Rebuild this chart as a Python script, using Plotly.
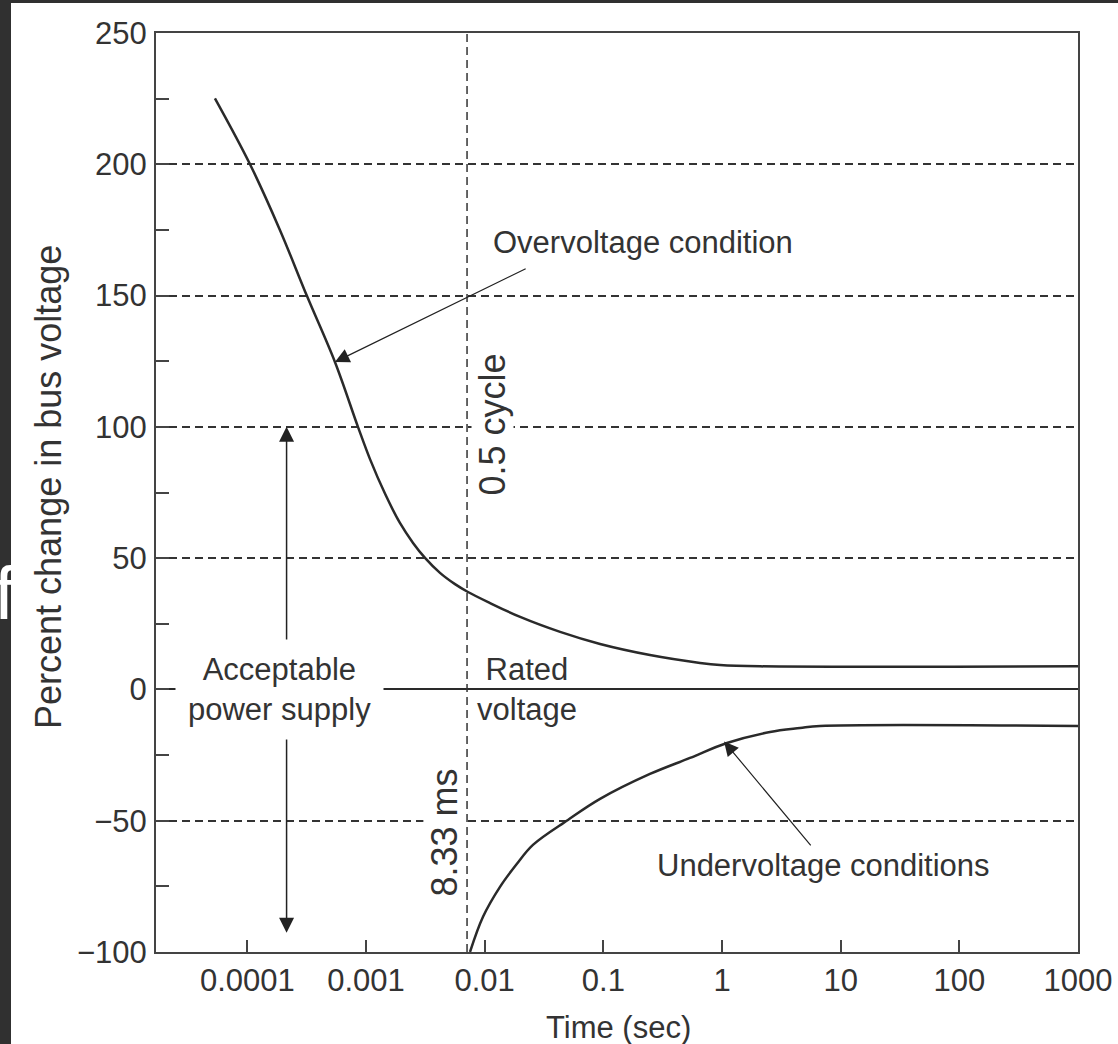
import math
import plotly.graph_objects as go

# overvoltage curve (time in sec, percent change in bus voltage)
over_t = [5.33e-5, 1.05e-4, 1.88e-4, 3.18e-4, 5.47e-4, 8.55e-4, 1.08e-3, 1.45e-3, 1.93e-3,
          2.49e-3, 3.14e-3, 4.2e-3, 5.62e-3, 7.23e-3, 0.0111, 0.0199, 0.0432, 0.0938,
          0.247, 0.653, 0.962, 2.09, 1000]
over_v = [225.1, 200.1, 175, 149.8, 124.7, 100, 87.7, 74.4, 63.4,
          55.8, 50.1, 44.4, 40.1, 37.1, 32.9, 27.6, 21.9, 17.3,
          13.1, 10.1, 9.3, 8.8, 8.8]

# undervoltage curve
under_t = [7.52e-3, 9.68e-3, 0.01346, 0.0187, 0.0255, 0.0503, 0.0938, 0.247, 0.537,
           1.10, 2.54, 4.54, 6.70, 1000]
under_v = [-100, -86.6, -75.2, -66.4, -59.2, -49.7, -41.7, -32.2, -26.1,
           -20.4, -16.2, -14.7, -13.9, -13.9]

half_cycle_t = 0.0071
x_ticks = [0.0001, 0.001, 0.01, 0.1, 1, 10, 100, 1000]
x_ticktext = ["0.0001", "0.001", "0.01", "0.1", "1", "10", "100", "1000"]

ink = "#333333"
font = "Liberation Sans, Arial, sans-serif"
lx = math.log10

fig = go.Figure()

fig.add_trace(go.Scatter(x=over_t, y=over_v, mode="lines",
                         line=dict(color="#2a2a2a", width=2.5, shape="spline", smoothing=1.0)))
fig.add_trace(go.Scatter(x=under_t, y=under_v, mode="lines",
                         line=dict(color="#2a2a2a", width=2.5, shape="spline", smoothing=1.0)))
fig.add_trace(go.Scatter(x=[half_cycle_t, half_cycle_t], y=[-100, 250], mode="lines",
                         line=dict(color=ink, width=1.5, dash="8px,5px")))

L, R, T, B = 156, 40, 33, 92
W, H = 1118, 1044
pw, ph = W - L - R, H - T - B

# white sheet on a dark page (dark strip left and top)
fig.add_shape(type="rect", xref="paper", yref="paper", layer="below",
              x0=(11 - L) / pw, x1=(W + 5 - L) / pw, y0=-(B + 5) / ph, y1=(H - B - 3) / ph,
              fillcolor="white", line=dict(width=0))

ann = []
# stray letter on the dark strip
ann.append(dict(xref="paper", yref="paper", x=(4 - L) / pw, y=(H - B - 593) / ph, text="f",
                xanchor="center", yanchor="middle", showarrow=False,
                font=dict(family=font, size=75, color="white")))

# arrows
arrow_x = 2.14e-4
ann.append(dict(x=lx(arrow_x), y=100, ax=lx(arrow_x), ay=0, axref="x", ayref="y", text="",
                showarrow=True, arrowhead=2, arrowsize=2, arrowwidth=1.5, arrowcolor="#222"))
ann.append(dict(x=lx(arrow_x), y=-92.7, ax=lx(arrow_x), ay=0, axref="x", ayref="y", text="",
                showarrow=True, arrowhead=2, arrowsize=2, arrowwidth=1.5, arrowcolor="#222"))
ann.append(dict(x=lx(5.47e-4), y=124.7, ax=lx(0.0228), ay=160.5, axref="x", ayref="y", text="",
                showarrow=True, arrowhead=2, arrowsize=2.4, arrowwidth=1.2, arrowcolor="#222"))
ann.append(dict(x=lx(1.04), y=-19.8, ax=lx(5.73), ay=-60, axref="x", ayref="y", text="",
                showarrow=True, arrowhead=2, arrowsize=2.4, arrowwidth=1.2, arrowcolor="#222"))

# labels
ann.append(dict(x=lx(1.85e-4), y=0, text="Acceptable<br>power supply", showarrow=False,
                bgcolor="white", borderpad=12, font=dict(family=font, size=31, color=ink)))
ann.append(dict(x=lx(0.0228), y=0, text="Rated<br>voltage", showarrow=False,
                font=dict(family=font, size=31, color=ink)))
ann.append(dict(x=lx(0.216), y=170.4, text="Overvoltage condition", showarrow=False,
                font=dict(family=font, size=31, color=ink)))
ann.append(dict(x=lx(7.1), y=-67.2, text="Undervoltage conditions", showarrow=False,
                font=dict(family=font, size=31, color=ink)))
ann.append(dict(x=lx(0.0117), y=100.8, text="0.5 cycle", showarrow=False, textangle=-90,
                bgcolor="white", borderpad=0, font=dict(family=font, size=36, color=ink)))
ann.append(dict(x=lx(0.0046), y=-54.6, text="8.33 ms", showarrow=False, textangle=-90,
                bgcolor="white", borderpad=0, font=dict(family=font, size=36, color=ink)))

# axis titles
ann.append(dict(xref="paper", yref="paper", x=(618 - L) / pw, y=(H - B - 1027) / ph,
                xanchor="center", yanchor="middle",
                text="Time (sec)", showarrow=False, font=dict(family=font, size=31, color=ink)))
ann.append(dict(xref="paper", yref="paper", x=(48 - L) / pw, y=(H - B - 487) / ph,
                xanchor="center", yanchor="middle",
                text="Percent change in bus voltage", textangle=-90, showarrow=False,
                font=dict(family=font, size=36, color=ink)))

fig.update_layout(
    width=W, height=H,
    margin=dict(l=L, r=R, t=T, b=B, autoexpand=False),
    paper_bgcolor="#303030", plot_bgcolor="rgba(0,0,0,0)",
    showlegend=False,
    annotations=ann,
    font=dict(family=font, size=31, color=ink),
)
fig.update_xaxes(type="log", range=[-4.77, 3.0], tickvals=x_ticks, ticktext=x_ticktext,
                 ticks="inside", ticklen=12, tickwidth=2, tickcolor="#444",
                 showline=True, linecolor="#444", linewidth=2, mirror=True, automargin=False,
                 showgrid=False, zeroline=False, ticklabelstandoff=0,
                 tickfont=dict(family=font, size=31, color=ink))
fig.update_yaxes(range=[-100, 250], dtick=50, ticks="inside", ticklen=13, tickwidth=2, tickcolor="#444",
                 minor=dict(dtick=25, ticks="inside", ticklen=13, tickwidth=2, tickcolor="#444", showgrid=False),
                 showline=True, linecolor="#444", linewidth=2, mirror=True, automargin=False,
                 showgrid=True, gridcolor=ink, gridwidth=1.5, griddash="8px,5px",
                 zeroline=True, zerolinecolor="#2a2a2a", zerolinewidth=2, ticklabelstandoff=1,
                 tickfont=dict(family=font, size=31, color=ink))

fig.write_html("out.html", config={"displayModeBar": False},
               post_script="document.body.style.margin='0';document.body.style.background='#303030';")
